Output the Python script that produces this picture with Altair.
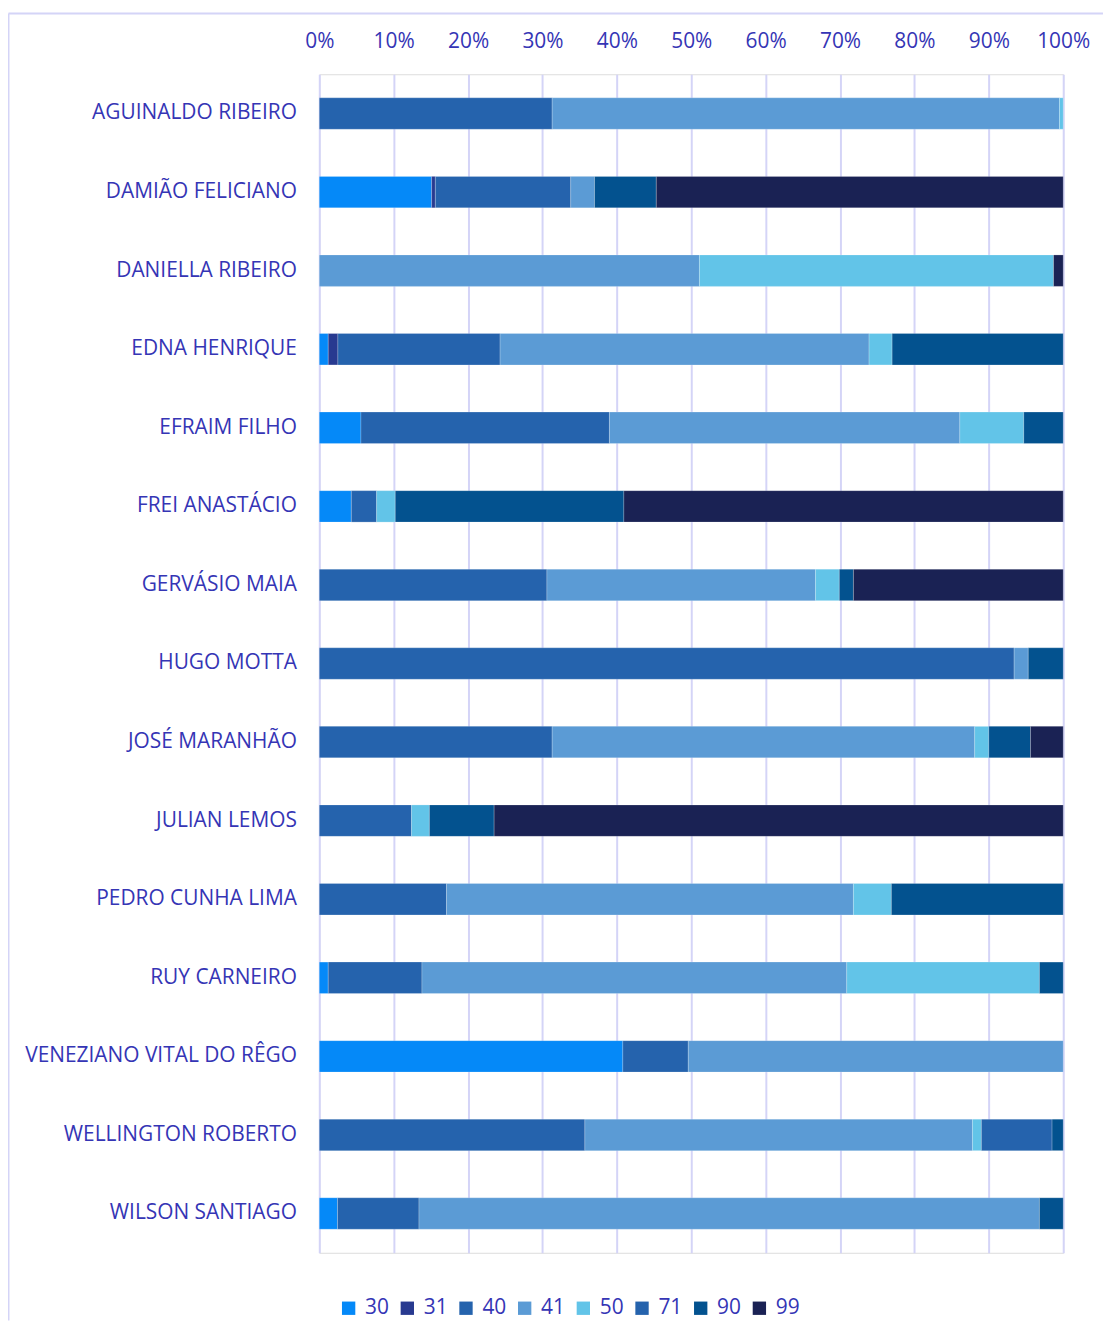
import altair as alt
import pandas as pd

names = [
    "AGUINALDO RIBEIRO", "DAMIÃO FELICIANO", "DANIELLA RIBEIRO", "EDNA HENRIQUE",
    "EFRAIM FILHO", "FREI ANASTÁCIO", "GERVÁSIO MAIA", "HUGO MOTTA",
    "JOSÉ MARANHÃO", "JULIAN LEMOS", "PEDRO CUNHA LIMA", "RUY CARNEIRO",
    "VENEZIANO VITAL DO RÊGO", "WELLINGTON ROBERTO", "WILSON SANTIAGO",
]
series = ["30", "31", "40", "41", "50", "71", "90", "99"]
colors = ["#0589F8", "#283A90", "#2563AD", "#5B9BD5", "#62C4E8", "#2563AD", "#03528F", "#1A2254"]

s30 = [0, 15.1, 0, 1.2, 5.6, 4.3, 0, 0, 0, 0, 0, 1.2, 40.8, 0, 2.45]
s31 = [0, 0.5, 0, 1.3, 0, 0, 0, 0, 0, 0, 0, 0, 0, 0, 0]
s40 = [31.3, 18.2, 0, 21.8, 33.4, 3.4, 30.6, 93.4, 31.3, 12.4, 17.1, 12.6, 8.8, 35.7, 10.95]
s41 = [68.2, 3.2, 51.1, 49.6, 47.1, 0, 36.1, 1.9, 56.8, 0, 54.7, 57.1, 50.4, 52.1, 83.4]
s50 = [0.5, 0, 47.6, 3.1, 8.6, 2.5, 3.2, 0, 1.9, 2.4, 5.1, 25.9, 0, 1.2, 0]
s71 = [0, 0, 0, 0, 0, 0, 0, 0, 0, 0, 0, 0, 0, 9.5, 0]
s90 = [0, 8.3, 0, 23.0, 5.3, 30.7, 1.9, 4.7, 5.6, 8.7, 23.1, 3.2, 0, 1.5, 3.2]
s99 = [0, 54.7, 1.3, 0, 0, 59.0, 28.2, 0, 4.4, 76.5, 0, 0, 0, 0, 0]

all_series = [s30, s31, s40, s41, s50, s71, s90, s99]
rows = []
for k, (sname, vals) in enumerate(zip(series, all_series)):
    for n, v in zip(names, vals):
        if v > 0:
            rows.append({"name": n, "series": sname, "value": v, "ord": k})
df = pd.DataFrame(rows)

TXT = "#3535B5"
GRID = "#D4D4F7"
FONT = "Open Sans"
W, H = 748, 1185

bars = alt.Chart(df).mark_bar(stroke="#ffffff", strokeWidth=0.6, strokeOpacity=0.35).encode(
    x=alt.X("value:Q", stack="normalize",
            scale=alt.Scale(domain=[0, 1], nice=False),
            axis=alt.Axis(orient="top", format="%", values=[i / 10 for i in range(11)],
                          title=None, domain=False, ticks=False, labelPadding=23,
                          labelFontSize=21, labelColor=TXT, labelFont=FONT,
                          labelFlush=False, labelOverlap=False,
                          grid=True, gridColor=GRID, gridWidth=2)),
    y=alt.Y("name:N", sort=names,
            scale=alt.Scale(paddingInner=0.6, paddingOuter=0.3),
            axis=alt.Axis(title=None, domain=False, ticks=False, labelPadding=23,
                          labelFontSize=21, labelColor=TXT, labelFont=FONT,
                          labelLimit=400, grid=False)),
    color=alt.Color("series:N", scale=alt.Scale(domain=series, range=colors),
                    legend=alt.Legend(orient="none", legendX=19, legendY=1230,
                                      direction="horizontal", columns=8, title=None,
                                      symbolType="square", symbolSize=180,
                                      symbolStrokeWidth=0, labelFontSize=21,
                                      labelColor=TXT, labelFont=FONT, labelOffset=6,
                                      columnPadding=7)),
    order=alt.Order("ord:Q"),
)

frame_left = alt.Chart(pd.DataFrame({"a": [0]})).mark_rule(color=GRID, strokeWidth=2).encode(
    x=alt.value(-312.5), y=alt.value(-61), y2=alt.value(H + 68))
frame_top = alt.Chart(pd.DataFrame({"a": [0]})).mark_rule(color=GRID, strokeWidth=2).encode(
    x=alt.value(-312.5), x2=alt.value(W + 40), y=alt.value(-61))

chart = alt.layer(frame_left, frame_top, bars).properties(
    width=W, height=H,
    autosize=alt.AutoSizeParams(type="none"),
    padding={"left": 313, "top": 63, "right": 40, "bottom": 68},
).configure_view(stroke=None).configure(background="#ffffff")

chart.save("out.html", embed_options={"renderer": "svg", "actions": False})
